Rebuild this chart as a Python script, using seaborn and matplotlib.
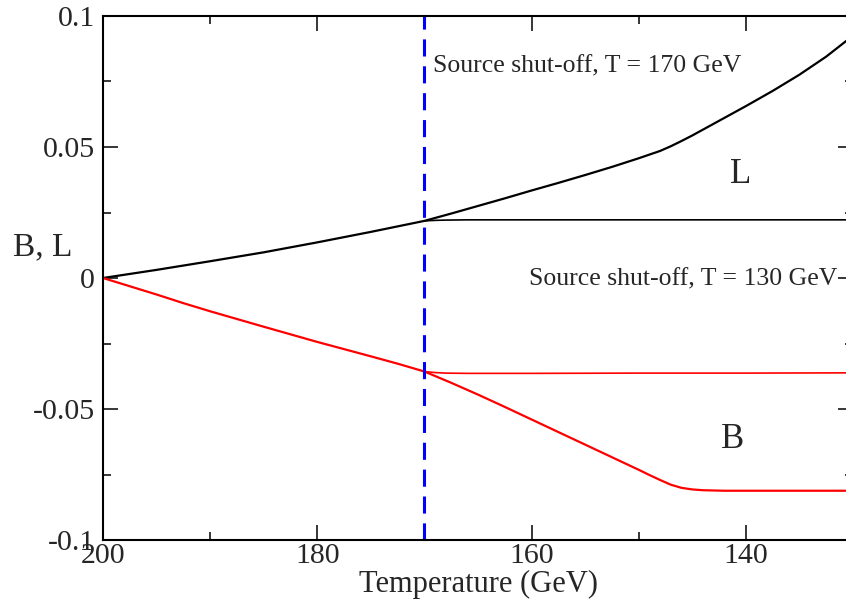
import numpy as np
import pandas as pd
import matplotlib
matplotlib.use("Agg")
import matplotlib.pyplot as plt
from matplotlib.ticker import AutoMinorLocator
import seaborn as sns

# lepton number, source on the whole way
l_temp = [200, 195, 190, 185, 180, 175, 170, 167.5, 165, 162.5, 160, 157.5, 155,
          152.5, 150, 148, 147, 146, 145, 142.5, 140, 137.5, 135, 132.5, 131, 130]
l_val = [0.0, 0.0031, 0.0064, 0.0098, 0.0136, 0.0176, 0.0218, 0.0246, 0.0275,
         0.0304, 0.0334, 0.0363, 0.0393, 0.0424, 0.0457, 0.0485, 0.0503, 0.0523,
         0.0544, 0.0600, 0.0656, 0.0714, 0.0776, 0.0845, 0.0893, 0.0925]

# lepton number, source shut off at 170
l_off_temp = [170, 169, 168, 166, 160, 150, 140, 130]
l_off_val = [0.0218, 0.0220, 0.0221, 0.0222, 0.0222, 0.0222, 0.0222, 0.0222]

# baryon number, source on
b_temp = [200, 195, 192.5, 190, 185, 180, 175, 172.5, 170, 167.5, 165, 162.5, 160,
          157.5, 155, 152.5, 150, 149, 148, 147, 146, 145, 144, 142, 140, 135, 130]
b_val = [0.0, -0.0063, -0.0096, -0.0127, -0.0186, -0.0244, -0.0299, -0.0327,
         -0.0357, -0.0400, -0.0445, -0.0492, -0.0540, -0.0588, -0.0636, -0.0684,
         -0.0732, -0.0752, -0.0771, -0.0789, -0.0801, -0.0807, -0.0810, -0.0812,
         -0.0812, -0.0812, -0.0812]

# baryon number, source shut off at 170
b_off_temp = [170, 169, 168, 166, 160, 150, 140, 130]
b_off_val = [-0.0357, -0.0361, -0.0363, -0.0364, -0.0364, -0.0363, -0.0363, -0.0362]

shutoff_t = 170

y_ticks = [-0.1, -0.05, 0, 0.05, 0.1]
y_labels = ["-0.1", "-0.05", "0", "0.05", "0.1"]
x_ticks = [200, 180, 160, 140]
x_labels = ["200", "180", "160", "140"]

sns.set_theme(style="ticks")
plt.rcParams["font.family"] = ["Liberation Serif", "DejaVu Serif"]

fig = plt.figure(figsize=(8.46, 6.04), dpi=100)
# plot frame runs a little past the right edge of the picture
ax = fig.add_axes([103 / 846, 64 / 604, 750 / 846, 524 / 604])

sns.lineplot(x=l_temp, y=l_val, ax=ax, color="black", linewidth=1.6, estimator=None)
sns.lineplot(x=l_off_temp, y=l_off_val, ax=ax, color="black", linewidth=1.2, estimator=None)
sns.lineplot(x=b_temp, y=b_val, ax=ax, color="red", linewidth=1.6, estimator=None)
sns.lineplot(x=b_off_temp, y=b_off_val, ax=ax, color="red", linewidth=1.2, estimator=None)
ax.axvline(shutoff_t, color="#0000ff", linewidth=2.2, dashes=(5.6, 3.2))

ax.set_xlim(200, 130)
ax.set_ylim(-0.1, 0.1)
ax.set_xticks(x_ticks, x_labels)
ax.set_yticks(y_ticks, y_labels)
ax.xaxis.set_minor_locator(AutoMinorLocator(2))
ax.yaxis.set_minor_locator(AutoMinorLocator(2))
ax.tick_params(which="both", direction="in", top=True, right=True, width=1.1,
               color="black", labelsize=21.5)
ax.tick_params(which="major", length=11)
ax.tick_params(which="minor", length=5.5)
ax.tick_params(axis="x", pad=2)
ax.tick_params(axis="y", pad=6)
for sp in ax.spines.values():
    sp.set_linewidth(1.5)
    sp.set_color("black")

ax.set_xlabel("Temperature (GeV)", fontsize=22)
ax.xaxis.set_label_coords(0.5, -0.058)
ax.set_ylabel("B, L", fontsize=24, rotation=0, ha="center", va="center")
ax.yaxis.set_label_coords(-0.08, 0.56)

ax.text(169.2, 0.0786, "Source shut-off, T = 170 GeV", fontsize=18.5,
        ha="left", va="baseline")
ax.text(160.2, -0.0027, "Source shut-off, T = 130 GeV", fontsize=18.5,
        ha="left", va="baseline")
ax.text(141.5, 0.0362, "L", fontsize=25, ha="left", va="baseline")
ax.text(142.3, -0.065, "B", fontsize=25, ha="left", va="baseline")

fig.savefig("out.png", dpi=100)
plt.close(fig)
